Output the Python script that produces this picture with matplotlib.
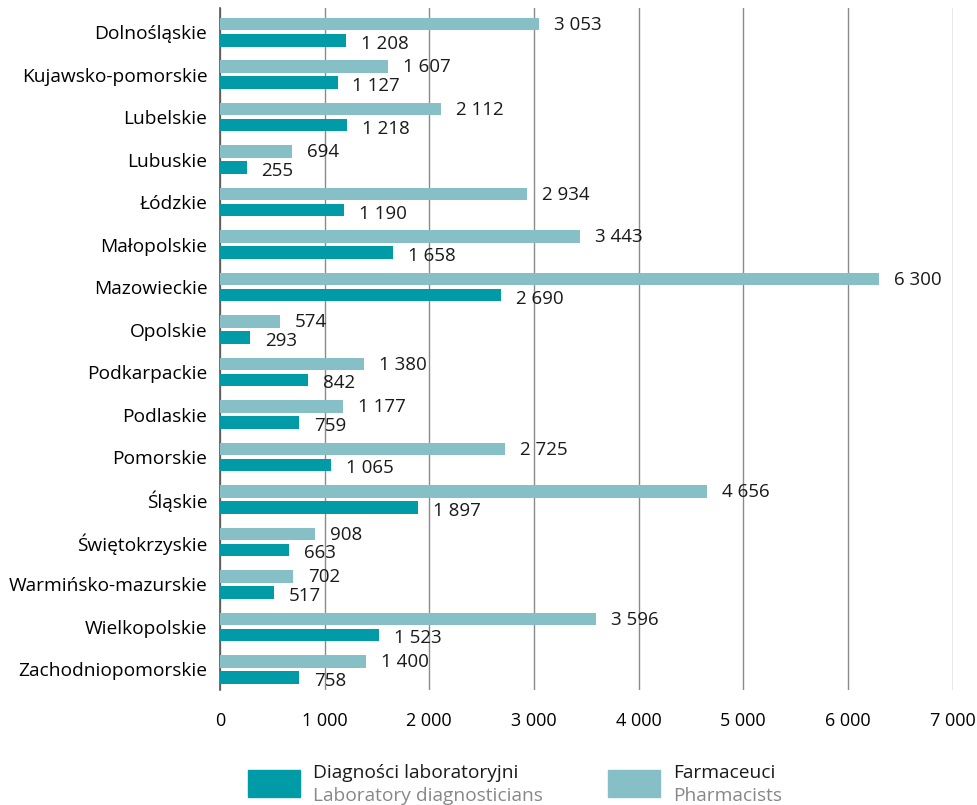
import numpy as np
import matplotlib
matplotlib.use('Agg')
import matplotlib.pyplot as plt
from matplotlib.patches import Rectangle

plt.rcParams['font.family'] = ['Open Sans', 'DejaVu Sans']

regions = ['Dolnośląskie', 'Kujawsko-pomorskie', 'Lubelskie', 'Lubuskie', 'Łódzkie',
           'Małopolskie', 'Mazowieckie', 'Opolskie', 'Podkarpackie', 'Podlaskie',
           'Pomorskie', 'Śląskie', 'Świętokrzyskie', 'Warmińsko-mazurskie',
           'Wielkopolskie', 'Zachodniopomorskie']
pharmacists = [3053, 1607, 2112, 694, 2934, 3443, 6300, 574, 1380, 1177,
               2725, 4656, 908, 702, 3596, 1400]
lab_diag = [1208, 1127, 1218, 255, 1190, 1658, 2690, 293, 842, 759,
            1065, 1897, 663, 517, 1523, 758]
xticks = [0, 1000, 2000, 3000, 4000, 5000, 6000, 7000]

C_LAB = '#009ba6'
C_PHARM = '#86c0c6'

def fmt(v):
    return f'{v:,}'.replace(',', ' ')

fig = plt.figure(figsize=(9.77, 8.05), dpi=100)
ax = fig.add_axes([0.225, 0.143, 0.750, 0.847])

y = np.arange(len(regions))
h = 0.30
off = 0.19
ax.barh(y - off, pharmacists, height=h, color=C_PHARM, zorder=3)
ax.barh(y + off, lab_diag, height=h, color=C_LAB, zorder=3)

for yi, v in zip(y, pharmacists):
    ax.text(v + 140, yi - off + 0.02, fmt(v), va='center', ha='left', fontsize=13.5, color='#1a1a1a')
for yi, v in zip(y, lab_diag):
    ax.text(v + 140, yi + off + 0.08, fmt(v), va='center', ha='left', fontsize=13.5, color='#1a1a1a')

ax.set_xlim(0, 7000)
ax.set_ylim(15.48, -0.565)
ax.set_xticks(xticks)
ax.set_xticklabels([fmt(t) for t in xticks], fontsize=13)
ax.set_yticks(y)
ax.set_yticklabels(regions, fontsize=13.8)
ax.tick_params(axis='y', length=0, pad=9)
ax.tick_params(axis='x', length=0, pad=16)
ax.grid(axis='x', color='#8a8a8a', linewidth=1.0, zorder=0)
for s in ['top', 'right', 'bottom']:
    ax.spines[s].set_visible(False)
ax.spines['left'].set_color('#555555')
ax.spines['left'].set_linewidth(1.2)

# legend
W, H = 977, 805
def rect(x0, y0, x1, y1, c):
    fig.add_artist(Rectangle((x0 / W, 1 - y1 / H), (x1 - x0) / W, (y1 - y0) / H,
                             transform=fig.transFigure, color=c))
rect(248, 770, 300, 797, C_LAB)
rect(608, 770, 660, 797, C_PHARM)
fig.text(313 / W, 1 - 773 / H, 'Diagności laboratoryjni', fontsize=13.8, va='center', color='#1a1a1a')
fig.text(313 / W, 1 - 796 / H, 'Laboratory diagnosticians', fontsize=13.8, va='center', color='#888888')
fig.text(673 / W, 1 - 773 / H, 'Farmaceuci', fontsize=13.8, va='center', color='#1a1a1a')
fig.text(673 / W, 1 - 796 / H, 'Pharmacists', fontsize=13.8, va='center', color='#888888')

fig.savefig('out.png', dpi=100)
